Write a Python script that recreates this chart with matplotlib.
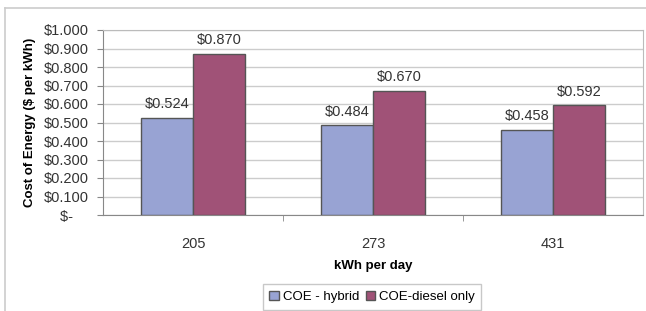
import numpy as np
import matplotlib.pyplot as plt
from matplotlib.lines import Line2D

plt.rcParams['font.family'] = ['Liberation Sans', 'DejaVu Sans']

categories = ['205', '273', '431']
hybrid = [0.524, 0.484, 0.458]
diesel = [0.870, 0.670, 0.592]
series_names = ['COE - hybrid', 'COE-diesel only']

fig = plt.figure(figsize=(6.46, 3.11), dpi=100)
ax = fig.add_axes([103/646, 1 - 215/311, 540/646, 185/311])

ind = np.arange(len(categories))
width = 0.29  # width of the bars

blue_bar = ax.bar(ind - width/2, hybrid, width, color='#98A3D3',
                  edgecolor='#555555', linewidth=1.0, zorder=3)
red_bar = ax.bar(ind + width/2, diesel, width, color='#A05277',
                 edgecolor='#555555', linewidth=1.0, zorder=3)

ax.set_xlim(-0.5, 2.5)
ax.set_ylim(0, 1.0)
yt = np.arange(0, 1.01, 0.1)
ax.set_yticks(yt)
ax.set_yticklabels(['$-    '] + ['${:.3f}'.format(v) for v in yt[1:]],
                   fontsize=10.5, color='#333333')
ax.set_xticks(ind)
ax.set_xticklabels(categories, fontsize=10.5, color='#333333')
ax.set_xticks([0.5, 1.5], minor=True)
ax.tick_params(axis='x', which='major', length=0, pad=16)
ax.tick_params(axis='x', which='minor', length=4, color='#888888', direction='out')
ax.tick_params(axis='y', length=4, color='#888888', direction='out', pad=6)

ax.yaxis.grid(True, color='#CCCCCC', linewidth=1.0, zorder=0)
for s in ['top', 'right']:
    ax.spines[s].set_color('#BBBBBB')
for s in ['left', 'bottom']:
    ax.spines[s].set_color('#888888')

ax.set_xlabel('kWh per day', fontsize=9.5, fontweight='bold', labelpad=6)
ax.set_ylabel('Cost of Energy ($ per kWh)', fontsize=9.5, fontweight='bold', labelpad=6)


def autolabel(rects):
    for rect in rects:
        h = rect.get_height()
        ax.annotate('${:.3f}'.format(h), (rect.get_x() + rect.get_width()/2, h),
                    xytext=(0, 5), textcoords='offset points',
                    ha='center', va='bottom', fontsize=10.5, color='#333333')


autolabel(blue_bar)
autolabel(red_bar)

leg = fig.legend((blue_bar[0], red_bar[0]), series_names, loc='center',
                 bbox_to_anchor=(372/646, 1 - 297/311), ncol=2, fontsize=9.5,
                 frameon=True, fancybox=False, handlelength=0.7, handleheight=0.7,
                 handletextpad=0.3, columnspacing=0.5, borderpad=0.5)
leg.get_frame().set_edgecolor('#BBBBBB')
leg.get_frame().set_linewidth(1.0)

# outer chart frame
fig.add_artist(Line2D([5/646, 1], [1 - 8/311, 1 - 8/311], transform=fig.transFigure,
                      color='#CCCCCC', linewidth=1.2))
fig.add_artist(Line2D([5/646, 5/646], [0, 1 - 8/311], transform=fig.transFigure,
                      color='#CCCCCC', linewidth=1.2))

fig.savefig('out.png', dpi=100)
